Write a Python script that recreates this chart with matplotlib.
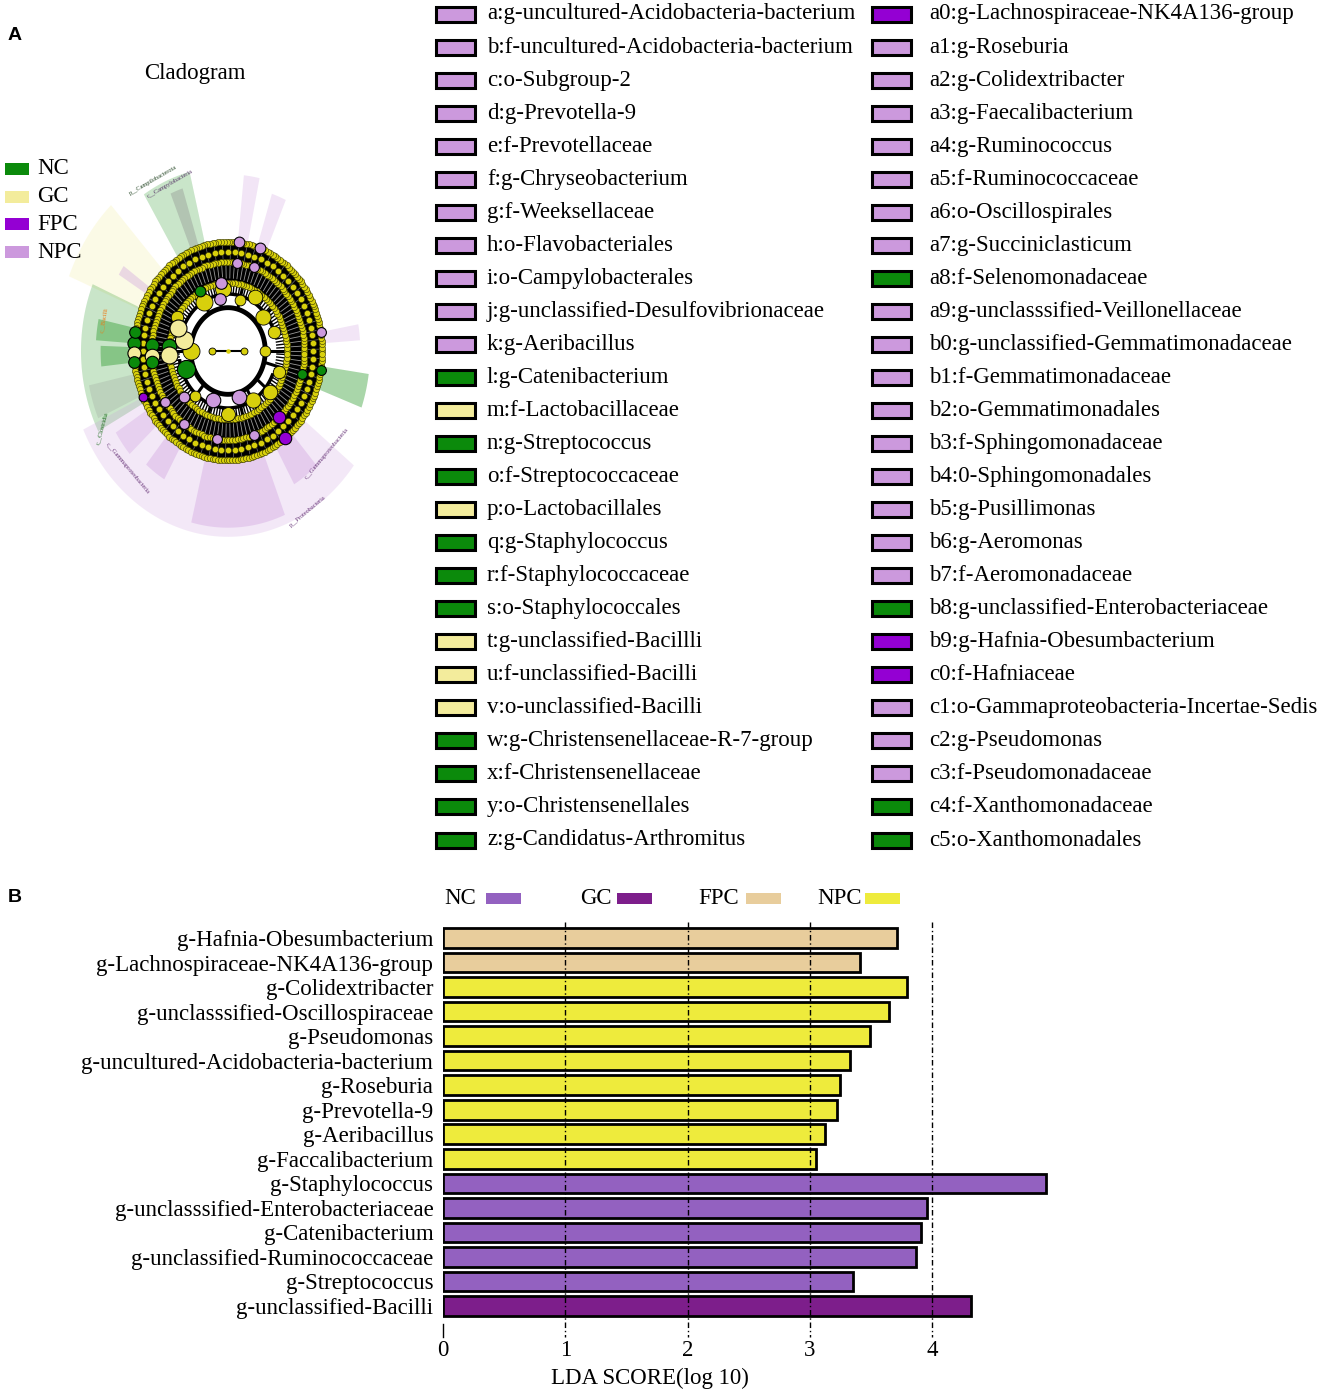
import numpy as np
import matplotlib
matplotlib.use('Agg')
import matplotlib.pyplot as plt
from matplotlib.patches import Rectangle, Polygon

plt.rcParams['font.family'] = ['Liberation Serif', 'DejaVu Serif']

# ---------------- data ----------------
groups = ['NC', 'GC', 'FPC', 'NPC']
clado_colors = {'NC': '#0b8a0b', 'GC': '#f3ec9c', 'FPC': '#9400d3', 'NPC': '#cc99dd'}

left_labels = [
    'a:g-uncultured-Acidobacteria-bacterium', 'b:f-uncultured-Acidobacteria-bacterium',
    'c:o-Subgroup-2', 'd:g-Prevotella-9', 'e:f-Prevotellaceae', 'f:g-Chryseobacterium',
    'g:f-Weeksellaceae', 'h:o-Flavobacteriales', 'i:o-Campylobacterales',
    'j:g-unclassified-Desulfovibrionaceae', 'k:g-Aeribacillus', 'l:g-Catenibacterium',
    'm:f-Lactobacillaceae', 'n:g-Streptococcus', 'o:f-Streptococcaceae', 'p:o-Lactobacillales',
    'q:g-Staphylococcus', 'r:f-Staphylococcaceae', 's:o-Staphylococcales',
    't:g-unclassified-Bacillli', 'u:f-unclassified-Bacilli', 'v:o-unclassified-Bacilli',
    'w:g-Christensenellaceae-R-7-group', 'x:f-Christensenellaceae', 'y:o-Christensenellales',
    'z:g-Candidatus-Arthromitus']
left_groups = ['NPC'] * 11 + ['NC', 'GC', 'NC', 'NC', 'GC', 'NC', 'NC', 'NC',
                              'GC', 'GC', 'GC', 'NC', 'NC', 'NC', 'NC']

right_labels = [
    'a0:g-Lachnospiraceae-NK4A136-group', 'a1:g-Roseburia', 'a2:g-Colidextribacter',
    'a3:g-Faecalibacterium', 'a4:g-Ruminococcus', 'a5:f-Ruminococcaceae', 'a6:o-Oscillospirales',
    'a7:g-Succiniclasticum', 'a8:f-Selenomonadaceae', 'a9:g-unclasssified-Veillonellaceae',
    'b0:g-unclassified-Gemmatimonadaceae', 'b1:f-Gemmatimonadaceae', 'b2:o-Gemmatimonadales',
    'b3:f-Sphingomonadaceae', 'b4:0-Sphingomonadales', 'b5:g-Pusillimonas', 'b6:g-Aeromonas',
    'b7:f-Aeromonadaceae', 'b8:g-unclassified-Enterobacteriaceae', 'b9:g-Hafnia-Obesumbacterium',
    'c0:f-Hafniaceae', 'c1:o-Gammaproteobacteria-Incertae-Sedis', 'c2:g-Pseudomonas',
    'c3:f-Pseudomonadaceae', 'c4:f-Xanthomonadaceae', 'c5:o-Xanthomonadales']
right_groups = ['FPC'] + ['NPC'] * 7 + ['NC'] + ['NPC'] * 9 + ['NC', 'FPC', 'FPC',
                                                              'NPC', 'NPC', 'NPC', 'NC', 'NC']

lda_taxa = ['g-Hafnia-Obesumbacterium', 'g-Lachnospiraceae-NK4A136-group', 'g-Colidextribacter',
            'g-unclasssified-Oscillospiraceae', 'g-Pseudomonas', 'g-uncultured-Acidobacteria-bacterium',
            'g-Roseburia', 'g-Prevotella-9', 'g-Aeribacillus', 'g-Faccalibacterium',
            'g-Staphylococcus', 'g-unclasssified-Enterobacteriaceae', 'g-Catenibacterium',
            'g-unclassified-Ruminococcaceae', 'g-Streptococcus', 'g-unclassified-Bacilli']
lda_scores = [3.71, 3.41, 3.79, 3.65, 3.49, 3.33, 3.25, 3.22, 3.12, 3.05,
              4.93, 3.96, 3.91, 3.87, 3.35, 4.32]
lda_groups = ['FPC', 'FPC'] + ['NPC'] * 8 + ['NC'] * 5 + ['GC']
lda_colors = {'NC': '#9361c0', 'GC': '#7d1e8b', 'FPC': '#e8cd9c', 'NPC': '#eeeb3c'}
lda_ticks = [0, 1, 2, 3, 4]

# cladogram schematic: shaded clades (theta0, theta1, r_outer, group, alpha)
clade_wedges = [(104, 122, 1.62, 'NC', 0.22), (108, 113, 1.5, 'grey', 0.35),
                (133, 158, 1.75, 'GC', 0.25), (157, 208, 1.5, 'NC', 0.22),
                (168, 176, 1.35, 'NC', 0.35), (178, 186, 1.3, 'NC', 0.35),
                (192, 204, 1.45, 'grey', 0.2),
                (205, 322, 1.63, 'NPC', 0.22), (256, 292, 1.55, 'NPC', 0.35),
                (212, 222, 1.35, 'NPC', 0.3), (230, 240, 1.3, 'NPC', 0.35),
                (300, 312, 1.35, 'NPC', 0.35), (340, 352, 1.45, 'NC', 0.35),
                (78, 84, 1.55, 'NPC', 0.25), (66, 72, 1.45, 'NPC', 0.25),
                (4, 10, 1.35, 'NPC', 0.25), (145, 149, 1.3, 'NPC', 0.35)]
# biomarker nodes (theta, r, group, size)
clade_nodes = [(176, 0.6, 'NC', 110), (183, 0.6, 'GC', 150), (168, 0.46, 'GC', 170),
               (158, 0.55, 'GC', 150), (200, 0.46, 'NC', 170), (176, 0.78, 'NC', 90),
               (183, 0.78, 'GC', 110), (187, 0.78, 'NC', 80), (176, 0.96, 'NC', 90),
               (181, 0.96, 'GC', 90), (186, 0.96, 'NC', 70), (170, 0.96, 'NC', 70),
               (83, 0.96, 'NPC', 60), (83, 0.78, 'NPC', 50), (70, 0.96, 'NPC', 60),
               (70, 0.78, 'NPC', 50), (97, 0.6, 'NPC', 70), (118, 0.6, 'NC', 60),
               (312, 0.78, 'FPC', 80), (307, 0.96, 'FPC', 80), (350, 0.96, 'NC', 50),
               (345, 0.78, 'NC', 50), (250, 0.46, 'NPC', 110), (285, 0.42, 'NPC', 110),
               (222, 0.6, 'NPC', 60), (235, 0.78, 'NPC', 50), (205, 0.96, 'FPC', 40),
               (262, 0.78, 'NPC', 50), (290, 0.78, 'NPC', 50), (10, 0.96, 'NPC', 50),
               (100, 0.46, 'NPC', 70), (215, 0.78, 'NPC', 50)]
ring_radii = [0.6, 0.78, 0.87, 0.96]
ring_counts = [130, 170, 80, 210]
inner_nodes = [(180, 0.38, 150), (0, 0.38, 60), (120, 0.5, 150), (95, 0.55, 130),
               (60, 0.55, 110), (40, 0.46, 120), (0, 0.16, 25), (180, 0.16, 25),
               (300, 0.5, 120), (320, 0.56, 110), (270, 0.55, 100), (20, 0.5, 80),
               (-20, 0.55, 80), (150, 0.6, 80), (75, 0.46, 60), (230, 0.52, 60)]
branch_angles = [0, 40, 75, 100, 120, 180, 230, 250, 285, 300, 320, 345]

# ---------------- figure ----------------
W, H = 1325, 1395
fig = plt.figure(figsize=(W / 100, H / 100), dpi=100)
ov = fig.add_axes([0, 0, 1, 1])
ov.set_xlim(0, W)
ov.set_ylim(H, 0)
ov.axis('off')

ov.text(8, 35, 'A', fontsize=14, fontweight='bold', family='Liberation Sans', va='center')
ov.text(8, 897, 'B', fontsize=14, fontweight='bold', family='Liberation Sans', va='center')
ov.text(195, 74, 'Cladogram', fontsize=16.5, ha='center', va='center')

# group legend of cladogram
for i, g in enumerate(groups):
    y = 169 + i * 27.7
    ov.add_patch(Rectangle((5, y - 6), 24, 12, color=clado_colors[g], lw=0))
    ov.text(37, y, g, fontsize=16.5, va='center')

# cladogram
cx, cy, rx, ry = 228, 351, 98, 114


def P(r, t):
    t = np.radians(t)
    return cx + rx * r * np.cos(t), cy - ry * r * np.sin(t)


def ring_poly(r0, r1, t0, t1, n=80):
    t = np.linspace(t0, t1, n)
    xo, yo = P(r1, t)
    xi, yi = P(r0, t[::-1])
    return np.column_stack([np.r_[xo, xi], np.r_[yo, yi]])


for t0, t1, ro, g, a in clade_wedges:
    col = '#888888' if g == 'grey' else clado_colors[g]
    ov.add_patch(Polygon(ring_poly(0.97, ro, t0, t1), closed=True, color=col, alpha=a, lw=0, zorder=1))

# dense black band
ov.add_patch(Polygon(ring_poly(0.62, 0.97, 0, 360, 200), closed=True, color='black', lw=0, zorder=2))
for t in np.linspace(0, 360, 120, endpoint=False):
    xa, ya = P(0.5, t)
    xb, yb = P(0.62, t)
    ov.plot([xa, xb], [ya, yb], color='black', lw=1.0, zorder=2)
for t in np.linspace(0, 360, 110, endpoint=False):
    xa, ya = P(0.64, t)
    xb, yb = P(0.75, t)
    ov.plot([xa, xb], [ya, yb], color='white', lw=0.6, alpha=0.6, zorder=3)
for t in np.linspace(1, 361, 70, endpoint=False):
    xa, ya = P(0.81, t)
    xb, yb = P(0.93, t)
    ov.plot([xa, xb], [ya, yb], color='white', lw=0.5, alpha=0.45, zorder=3)
# inner structure
tt = np.linspace(0, 360, 200)
x, y = P(0.38, tt)
ov.add_patch(Polygon(np.column_stack([x, y]), closed=True, facecolor='white', edgecolor='black',
                     lw=3.5, zorder=3))
for t0, t1 in [(15, 150), (190, 335)]:
    x, y = P(0.5, np.linspace(t0, t1, 80))
    ov.plot(x, y, color='black', lw=2.5, zorder=3)
for t in branch_angles:
    xa, ya = P(0.38, t)
    xb, yb = P(0.6, t)
    ov.plot([xa, xb], [ya, yb], color='black', lw=2.2, zorder=3)
x, y = P(0.16, np.array([0, 180]))
ov.plot(x, y, color='black', lw=1.5, zorder=4)

for r, n in zip(ring_radii, ring_counts):
    t = np.linspace(0, 360, n, endpoint=False)
    x, y = P(r, t)
    ov.scatter(x, y, s=20, color='#d8d00c', edgecolor='#333300', lw=0.4, zorder=4)
for t, r, s in inner_nodes:
    x, y = P(r, t)
    ov.scatter([x], [y], s=s, color='#d8d00c', edgecolor='black', lw=0.6, zorder=5)
ov.scatter([cx], [cy], s=5, color='#d8d00c', zorder=5)
for t, r, g, s in clade_nodes:
    x, y = P(r, t)
    ov.scatter([x], [y], s=s, color=clado_colors[g], edgecolor='black', lw=0.8, zorder=6)

# clade labels (tiny)
for txt, t, r, rot, col in [('p__Campilobacterota', 117, 1.68, 30, '#224422'),
                            ('c__Campylobacteria', 112, 1.58, 30, '#553366'),
                            ('c__Bacilli', 168, 1.3, 80, '#ee7711'),
                            ('c__Clostridia', 208, 1.45, 75, '#116611'),
                            ('p__Proteobacteria', 300, 1.62, 40, '#663377'),
                            ('c__Gammaproteobacteria', 318, 1.35, 50, '#663377'),
                            ('c__Gammaproteobacteria', 225, 1.45, -50, '#663377')]:
    x, y = P(r, t)
    ov.text(x, y, txt, fontsize=4.5, color=col, rotation=rot, ha='center', va='center', zorder=7)

# panel A key
for box_x, text_x, labels, gs in [(435, 487, left_labels, left_groups),
                                  (871, 929, right_labels, right_groups)]:
    for i, (lab, g) in enumerate(zip(labels, gs)):
        y = 14 + i * 33.04
        ov.add_patch(Rectangle((box_x + 1, y - 7.5), 39, 15, facecolor=clado_colors[g],
                               edgecolor='black', lw=2.2, zorder=3))
        ov.text(text_x, y, lab, fontsize=16.5, va='center')

# panel B legend
for lx, px, g in [(444, 486, 'NC'), (580, 617, 'GC'), (698, 746, 'FPC'), (817, 865, 'NPC')]:
    ov.text(lx, 899, g, fontsize=16.5, va='center')
    ov.add_patch(Rectangle((px, 893), 35, 11, color=lda_colors[g], lw=0))

# ---------------- panel B bars ----------------
x0, unit = 443, 122.3
top, bot = 922, 1322
ax = fig.add_axes([x0 / W, 1 - bot / H, 5 * unit / W, (bot - top) / H])
ax.patch.set_alpha(0)
ypos = np.arange(len(lda_taxa))
ax.barh(ypos, lda_scores, height=0.8, color=[lda_colors[g] for g in lda_groups],
        edgecolor='black', lw=2, zorder=2)
sp = 24.53
ax.set_ylim(15 + (bot - 1306) / sp, -(938 - top) / sp)
ax.set_xlim(0, 5)
for s in ax.spines.values():
    s.set_visible(False)
ax.set_yticks(ypos)
ax.set_yticklabels(lda_taxa, fontsize=16.5)
ax.tick_params(axis='y', length=0, pad=7)
ax.set_xticks(lda_ticks)
ax.set_xticklabels([str(t) for t in lda_ticks], fontsize=16.5)
ax.tick_params(axis='x', length=0, pad=13)
ylo = 15 + (1337 - 1306) / sp
for t in lda_ticks[1:]:
    ax.plot([t, t], [ax.get_ylim()[1], ylo], color='black', lw=1, ls=(0, (4, 2, 1, 2)),
            zorder=3, clip_on=False)
ax.plot([0, 0], [15 + (1324 - 1306) / sp, ylo], color='black', lw=1, clip_on=False)
ax.set_xlabel('LDA SCORE(log 10)', fontsize=16.5)
ax.xaxis.set_label_coords((650 - x0) / (5 * unit), -(1378 - bot) / (bot - top))
ax.xaxis.label.set_va('center')

fig.savefig('out.png', dpi=100)
